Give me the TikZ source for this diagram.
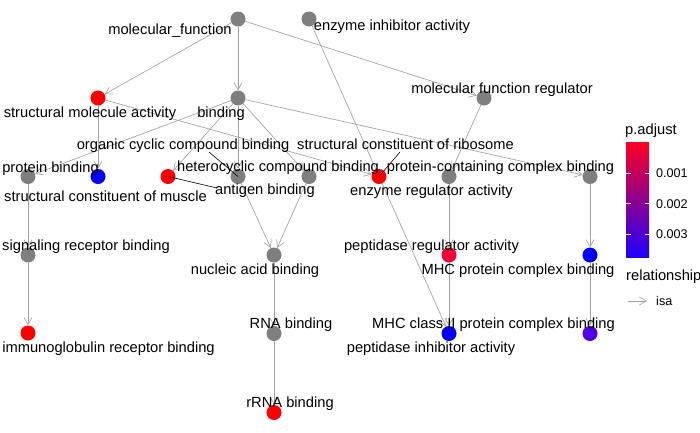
\documentclass[tikz,border=0pt]{standalone}
\usepackage{fontspec}
\setmainfont{Liberation Sans}
\usetikzlibrary{arrows.meta}
\pgfdeclarelayer{bg}
\pgfsetlayers{bg,main}
\definecolor{nodegray}{RGB}{127,127,127}
\definecolor{edgegray}{RGB}{160,160,160}
\definecolor{pred}{RGB}{255,0,0}
\definecolor{predtwo}{RGB}{245,0,58}
\definecolor{pblue}{RGB}{0,0,255}
\definecolor{pviolet}{RGB}{82,0,232}
\definecolor{bartop}{RGB}{255,0,30}
\definecolor{barmid}{RGB}{190,0,140}
\definecolor{barbot}{RGB}{30,0,255}
\begin{document}
\begin{tikzpicture}[x=1pt,y=-1pt,
  gonode/.style={circle, minimum size=15pt, inner sep=0pt, fill=#1, draw=none},
  lbl/.style={font=\fontsize{14.7}{17}\selectfont, anchor=base, inner sep=0pt, text=black},
  leglbl/.style={font=\fontsize{12.6}{15}\selectfont, anchor=base west, inner sep=0pt, text=black},
  legtitle/.style={font=\fontsize{14.7}{17}\selectfont, anchor=base west, inner sep=0pt, text=black},
  isaedge/.style={draw=edgegray, line width=0.65pt, -{Straight Barb[length=7pt,width=8pt]}},
  leader/.style={draw=black, line width=0.6pt}]
\useasboundingbox (0,0) rectangle (700,432);

% GO term nodes
\node[gonode=nodegray] (mf) at (238,19) {};
\node[gonode=nodegray] (eia) at (309,19) {};
\node[gonode=pred] (sma) at (98,98) {};
\node[gonode=nodegray] (bind) at (238,98) {};
\node[gonode=nodegray] (mfr) at (484,98) {};
\node[gonode=nodegray] (pb) at (28,176.5) {};
\node[gonode=pblue] (scm) at (98,176.5) {};
\node[gonode=pred] (ab) at (168,176.5) {};
\node[gonode=nodegray] (occb) at (238,176.5) {};
\node[gonode=nodegray] (hcb) at (309,176.5) {};
\node[gonode=pred] (scr) at (379,176.5) {};
\node[gonode=nodegray] (era) at (449,176.5) {};
\node[gonode=nodegray] (pccb) at (590,176.5) {};
\node[gonode=nodegray] (srb) at (28,255) {};
\node[gonode=nodegray] (nab) at (274,255) {};
\node[gonode=predtwo] (pra) at (449,255) {};
\node[gonode=pblue] (mhcb) at (590,255) {};
\node[gonode=pred] (irb) at (28,333) {};
\node[gonode=nodegray] (rnab) at (274,333.5) {};
\node[gonode=pblue] (pia) at (449,333.5) {};
\node[gonode=pviolet] (mhc2) at (590,333.5) {};
\node[gonode=pred] (rrna) at (274,412.5) {};

% edges (is_a)
\begin{pgfonlayer}{bg}
\fill[white] (0,0) rectangle (700,432);
\draw[isaedge] (mf) -- (sma);
\draw[isaedge] (mf) -- (bind);
\draw[isaedge] (mf) -- (mfr);
\draw[isaedge] (sma) -- (scm);
\draw[isaedge] (sma) -- (scr);
\draw[isaedge] (bind) -- (pb);
\draw[isaedge] (bind) -- (ab);
\draw[isaedge] (bind) -- (occb);
\draw[isaedge] (bind) -- (hcb);
\draw[isaedge] (bind) -- (pccb);
\draw[isaedge] (mfr) -- (era);
\draw[isaedge] (pb) -- (srb);
\draw[isaedge] (srb) -- (irb);
\draw[isaedge] (occb) -- (nab);
\draw[isaedge] (hcb) -- (nab);
\draw[isaedge] (nab) -- (rnab);
\draw[isaedge] (rnab) -- (rrna);
\draw[isaedge] (era) -- (pra);
\draw[isaedge] (pra) -- (pia);
\draw[isaedge] (eia) -- (pia);
\draw[isaedge] (pccb) -- (mhcb);
\draw[isaedge] (mhcb) -- (mhc2);
\end{pgfonlayer}

% labels
\node[lbl] (mfl) at (170,34.3) {molecular\_function};
\node[lbl] (eial) at (392,30.3) {enzyme inhibitor activity};
\node[lbl] (smal) at (90,117.3) {structural molecule activity};
\node[lbl] (bindl) at (221,117.3) {binding};
\node[lbl] (mfrl) at (502,93.3) {molecular function regulator};
\node[lbl] (occbl) at (183,149.3) {organic cyclic compound binding};
\node[lbl] (scrl) at (405.5,149.3) {structural constituent of ribosome};
\node[lbl] (pbl) at (50.5,172) {protein binding};
\node[lbl] (hcbl) at (278,171.3) {heterocyclic compound binding};
\node[lbl] (pccbl) at (500.5,171.3) {protein-containing complex binding};
\node[lbl] (scml) at (105.5,201.3) {structural constituent of muscle};
\node[lbl] (abl) at (265,194.8) {antigen binding};
\node[lbl] (eral) at (431.5,195.3) {enzyme regulator activity};
\node[lbl] (srbl) at (86,250.3) {signaling receptor binding};
\node[lbl] (pral) at (431.5,250.3) {peptidase regulator activity};
\node[lbl] (nabl) at (255,274.3) {nucleic acid binding};
\node[lbl] (mhcbl) at (518,274.3) {MHC protein complex binding};
\node[lbl] (mhc2l) at (493.5,328.3) {MHC class II protein complex binding};
\node[lbl] (rnabl) at (291,328) {RNA binding};
\node[lbl] (pial) at (431,352.3) {peptidase inhibitor activity};
\node[lbl] (irbl) at (108.5,352) {immunoglobulin receptor binding};
\node[lbl] (rrnal) at (290,407.3) {rRNA binding};

% label leader segments
\coordinate (abend) at (217,188);
\coordinate (occbend) at (209,152);
\coordinate (scrend) at (400,152);
\draw[leader] (ab.center) -- (abend);
\draw[leader] (occb.center) -- (occbend);
\draw[leader] (scr.center) -- (scrend);

% legend
\node[legtitle] (padj) at (625,134.5) {p.adjust};
\shade[top color=bartop, middle color=barmid, bottom color=barbot] (626,142) rectangle (649,257);
\draw[white, line width=0.8pt] (626,173) -- (630.5,173) (644.5,173) -- (649,173);
\draw[white, line width=0.8pt] (626,203.5) -- (630.5,203.5) (644.5,203.5) -- (649,203.5);
\draw[white, line width=0.8pt] (626,234) -- (630.5,234) (644.5,234) -- (649,234);
\node[leglbl] (t1) at (656,177.8) {0.001};
\node[leglbl] (t2) at (656,208.3) {0.002};
\node[leglbl] (t3) at (656,238.8) {0.003};
\node[legtitle] (rel) at (626,280) {relationship};
\coordinate (la) at (628,301);
\coordinate (lb) at (647,301);
\draw[isaedge] (la) -- (lb);
\node[leglbl] (isal) at (656,305.5) {isa};
\end{tikzpicture}
\end{document}
